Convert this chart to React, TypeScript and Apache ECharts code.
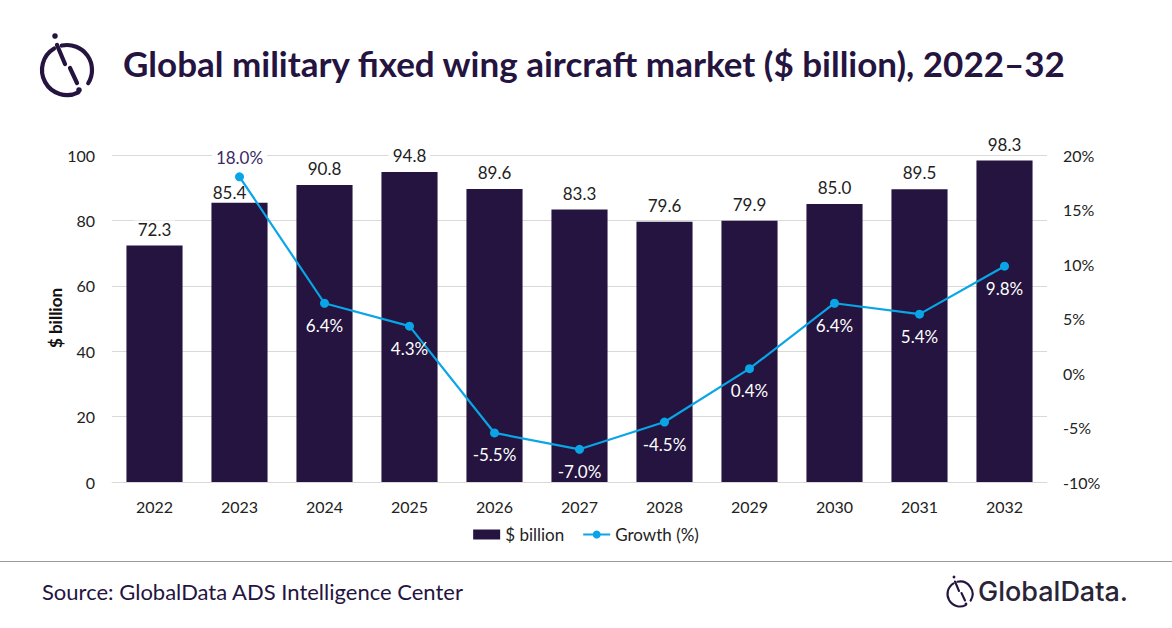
import React, { useEffect, useRef } from "react";
import * as echarts from "echarts";

const years = ["2022", "2023", "2024", "2025", "2026", "2027", "2028", "2029", "2030", "2031", "2032"];
const marketValues = [72.3, 85.4, 90.8, 94.8, 89.6, 83.3, 79.6, 79.9, 85.0, 89.5, 98.3];
const growthValues: (number | null)[] = [null, 18.0, 6.4, 4.3, -5.5, -7.0, -4.5, 0.4, 6.4, 5.4, 9.8];

const DARK = "#24143F";
const BLUE = "#0AA5E6";
const FONT = "Lato, 'Open Sans', sans-serif";

function logo(cx: number, cy: number, s: number, color: string) {
  const r = 25 * s;
  const w = 4.2 * s;
  const d = Math.PI / 180;
  const pt = (x: number, y: number) => [cx + x * s, cy + y * s];
  return [
    { type: "arc", shape: { cx, cy, r, startAngle: 63 * d, endAngle: 239 * d, clockwise: true }, style: { stroke: color, lineWidth: w, fill: "none", lineCap: "round" } },
    { type: "arc", shape: { cx, cy, r, startAngle: 258 * d, endAngle: 392 * d, clockwise: true }, style: { stroke: color, lineWidth: w, fill: "none", lineCap: "round" } },
    { type: "line", shape: { x1: pt(-10, -25)[0], y1: pt(-10, -25)[1], x2: pt(-2, -6)[0], y2: pt(-2, -6)[1] }, style: { stroke: color, lineWidth: w, lineCap: "round" } },
    { type: "line", shape: { x1: pt(3, -2)[0], y1: pt(3, -2)[1], x2: pt(10, 13)[0], y2: pt(10, 13)[1] }, style: { stroke: color, lineWidth: w, lineCap: "round" } },
    { type: "circle", shape: { cx: pt(-12, -34)[0], cy: pt(-12, -34)[1], r: 2.8 * s }, style: { fill: color } },
    { type: "circle", shape: { cx: pt(12, 20)[0], cy: pt(12, 20)[1], r: 2.8 * s }, style: { fill: color } },
  ];
}

export default function App() {
  const ref = useRef<HTMLDivElement>(null);
  useEffect(() => {
    document.body.style.margin = "0";
    if (!ref.current) return;
    const chart = echarts.init(ref.current, null, { renderer: "svg" });
    chart.setOption({
      animation: false,
      backgroundColor: "#ffffff",
      textStyle: { fontFamily: FONT },
      grid: { left: 112, right: 125, top: 155, bottom: 146 },
      legend: {
        bottom: 80,
        left: "center",
        itemWidth: 27,
        itemHeight: 10,
        itemGap: 18,
        textStyle: { fontFamily: FONT, fontSize: 17, color: "#222" },
        data: [
          { name: "$ billion", icon: "rect" },
          { name: "Growth (%)" },
        ],
      },
      xAxis: {
        type: "category",
        data: years,
        axisLine: { lineStyle: { color: "#D9D9D9" } },
        axisTick: { show: false },
        axisLabel: { color: "#222", fontSize: 16, margin: 16, fontFamily: FONT },
      },
      yAxis: [
        {
          type: "value",
          min: 0,
          max: 100,
          interval: 20,
          axisLabel: { color: "#222", fontSize: 16, margin: 17, fontFamily: FONT },
          splitLine: { lineStyle: { color: "#D9D9D9" } },
          axisLine: { show: false },
          axisTick: { show: false },
        },
        {
          type: "value",
          min: -10,
          max: 20,
          interval: 5,
          position: "right",
          axisLabel: { color: "#222", fontSize: 16, margin: 16, formatter: "{value}%", fontFamily: FONT },
          splitLine: { show: false },
          axisLine: { show: false },
          axisTick: { show: false },
        },
      ],
      series: [
        {
          name: "$ billion",
          type: "bar",
          data: marketValues.map((v, i) =>
            i === 1 ? { value: v, label: { distance: 2, offset: [-10, 0], backgroundColor: "transparent" } } : v
          ),
          barWidth: "66%",
          itemStyle: { color: DARK },
          label: {
            show: true,
            position: "top",
            distance: 8,
            color: "#222",
            fontSize: 17,
            fontFamily: FONT,
            backgroundColor: "#ffffff",
            padding: [0, 4],
            formatter: (p: any) => p.value.toFixed(1),
          },
        },
        {
          name: "Growth (%)",
          type: "line",
          yAxisIndex: 1,
          data: growthValues.map((v, i) =>
            i === 1
              ? { value: v, label: { position: "top", color: "#3B2A63", distance: 6, backgroundColor: "#ffffff", padding: [0, 4] } }
              : v
          ),
          symbol: "circle",
          symbolSize: 9,
          lineStyle: { color: BLUE, width: 2.2 },
          itemStyle: { color: BLUE },
          z: 5,
          label: {
            show: true,
            position: "bottom",
            distance: 9,
            color: "#ffffff",
            fontSize: 17,
            fontFamily: FONT,
            formatter: (p: any) => (p.value == null ? "" : p.value.toFixed(1) + "%"),
          },
        },
      ],
      graphic: [
        ...logo(67, 70, 1, DARK),
        {
          type: "text",
          left: 123,
          top: 45,
          style: { text: "Global military fixed wing aircraft market ($ billion), 2022–32", fontFamily: FONT, fontWeight: "bold", fontSize: 35, fill: DARK },
        },
        {
          type: "text",
          x: 55,
          y: 318,
          rotation: Math.PI / 2,
          style: { text: "$ billion", fontFamily: FONT, fontWeight: "bold", fontSize: 17, fill: "#111", align: "center", verticalAlign: "middle" },
        },
        { type: "line", shape: { x1: 0, y1: 561.5, x2: 1172, y2: 561.5 }, style: { stroke: "#9A9A9A", lineWidth: 1.2 } },
        {
          type: "text",
          left: 42,
          top: 580,
          style: { text: "Source: GlobalData ADS Intelligence Center", fontFamily: FONT, fontSize: 22, fill: DARK },
        },
        ...logo(960, 594, 0.5, DARK),
        {
          type: "text",
          left: 978,
          top: 578,
          style: { text: "GlobalData.", fontFamily: "Inter, sans-serif", fontWeight: 500, fontSize: 27, fill: "#2A2438" },
        },
      ],
    });
    return () => chart.dispose();
  }, []);
  return <div ref={ref} style={{ width: 1172, height: 628 }} />;
}
